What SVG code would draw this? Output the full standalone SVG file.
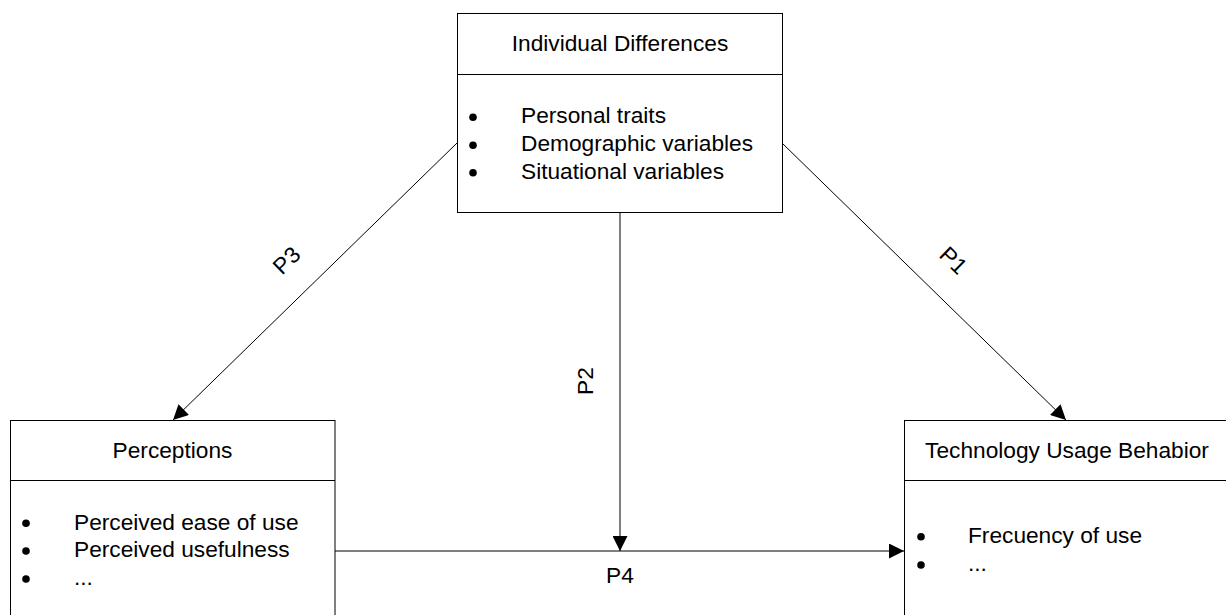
<svg xmlns="http://www.w3.org/2000/svg" width="1226" height="615" viewBox="0 0 1226 615">
<style>
text{font-family:"Liberation Sans",Arial,sans-serif;font-size:22.7px;fill:#000}
.c{text-anchor:middle}
.dot{fill:#000}
.box{fill:#fff;stroke:#000;stroke-width:1}
.ln{stroke:#000;stroke-width:1;fill:none}
.con{stroke:#000;stroke-width:1;fill:none;marker-end:url(#arr)}
</style>
<defs>
<marker id="arr" markerWidth="16" markerHeight="15" refX="15" refY="7.5" orient="auto" markerUnits="userSpaceOnUse">
<path d="M0,0 L15,7.5 L0,15 Z" fill="#000"/>
</marker>
</defs>
<rect width="1226" height="615" fill="#fff"/>
<g id="connectors">
<line class="con" x1="457" y1="143" x2="173" y2="420"/>
<line class="con" x1="782" y1="143" x2="1066" y2="420"/>
<line class="con" x1="620" y1="213" x2="620" y2="551"/>
<line class="con" x1="335" y1="551" x2="904" y2="551"/>
<text class="c" transform="translate(292,266) rotate(-44.3)">P3</text>
<text class="c" transform="translate(948,266) rotate(44.3)">P1</text>
<text class="c" transform="translate(593,381) rotate(-90)">P2</text>
<text class="c" x="620" y="582.5">P4</text>
</g>
<g id="individual-differences">
<rect class="box" x="457.5" y="13.5" width="325" height="199"/>
<line class="ln" x1="457.5" y1="74.5" x2="782.5" y2="74.5"/>
<text class="c" x="620" y="51">Individual Differences</text>
<circle class="dot" cx="473" cy="117.3" r="3.8"/>
<text x="521" y="122.5">Personal traits</text>
<circle class="dot" cx="473" cy="145.2" r="3.8"/>
<text x="521" y="150.8">Demographic variables</text>
<circle class="dot" cx="473" cy="172.8" r="3.8"/>
<text x="521" y="179">Situational variables</text>
</g>
<g id="perceptions">
<rect class="box" x="10.5" y="420.5" width="324.5" height="210"/>
<line class="ln" x1="10.5" y1="480.5" x2="335" y2="480.5"/>
<text class="c" x="172.5" y="458">Perceptions</text>
<circle class="dot" cx="26" cy="523.3" r="3.8"/>
<text x="74" y="529.5">Perceived ease of use</text>
<circle class="dot" cx="26" cy="551" r="3.8"/>
<text x="74" y="557">Perceived usefulness</text>
<circle class="dot" cx="26" cy="579" r="3.8"/>
<text x="74" y="584.5">...</text>
</g>
<g id="technology-usage-behavior">
<rect class="box" x="904.5" y="420.5" width="325" height="210"/>
<line class="ln" x1="904.5" y1="480.5" x2="1229.5" y2="480.5"/>
<text class="c" x="1067" y="458">Technology Usage Behabior</text>
<circle class="dot" cx="921" cy="536.7" r="3.8"/>
<text x="968" y="543">Frecuency of use</text>
<circle class="dot" cx="921" cy="565" r="3.8"/>
<text x="968" y="571">...</text>
</g>
</svg>
